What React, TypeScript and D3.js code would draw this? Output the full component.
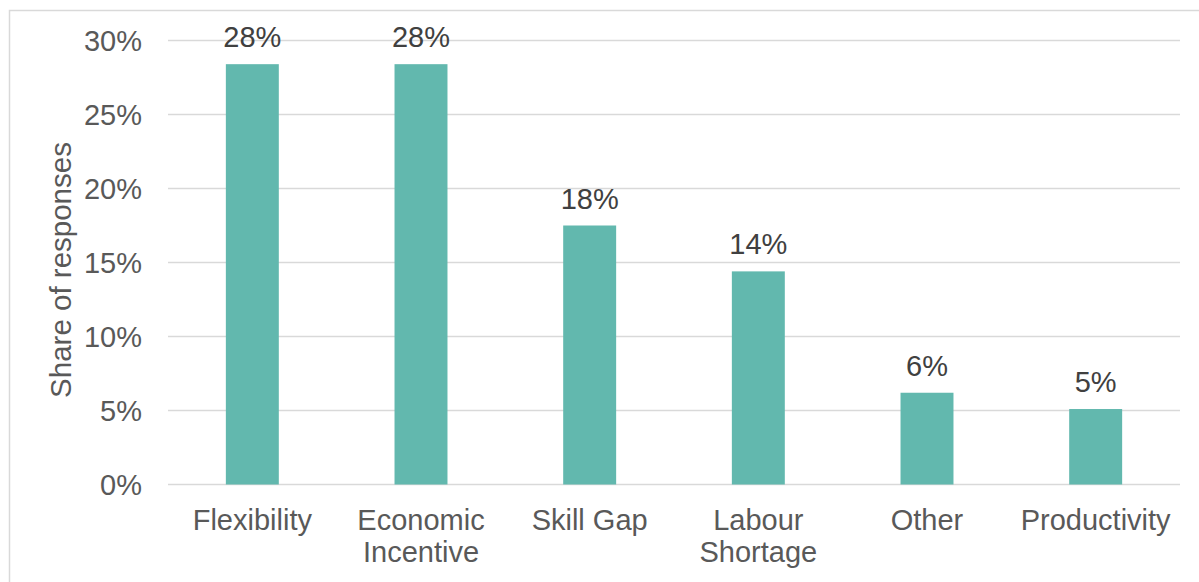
import React from "react";
import * as d3 from "d3";

const categories: string[][] = [
  ["Flexibility"],
  ["Economic", "Incentive"],
  ["Skill Gap"],
  ["Labour", "Shortage"],
  ["Other"],
  ["Productivity"],
];
const values: number[] = [0.284, 0.284, 0.175, 0.144, 0.062, 0.051];
const yTicks: number[] = [0, 0.05, 0.1, 0.15, 0.2, 0.25, 0.3];
const yTitle = "Share of responses";

const W = 1199;
const H = 582;
const M = { left: 168, right: 1180, top: 40.5, bottom: 484.5 };
const FONT = "'Liberation Sans', Arial, sans-serif";

export default function App() {
  const keys = categories.map((c) => c.join(" "));
  const x = d3.scaleBand<string>().domain(keys).range([M.left, M.right]).paddingInner(0.686).paddingOuter(0.343);
  const y = d3.scaleLinear().domain([0, 0.3]).range([M.bottom, M.top]);
  const fmt = d3.format(".0%");

  return (
    <svg width={W} height={H} style={{ position: "absolute", left: 0, top: 0 }} fontFamily={FONT}>
      <rect x={0} y={0} width={W} height={H} fill="#fff" />
      <rect x={9.5} y={10.5} width={W + 20} height={H + 20} fill="none" stroke="#d9d9d9" strokeWidth={1.5} />
      {yTicks.map((t) => (
        <g key={t}>
          <line x1={M.left} x2={M.right} y1={y(t)} y2={y(t)} stroke="#d9d9d9" strokeWidth={1.5} />
          <text x={142} y={y(t)} dy="0.36em" textAnchor="end" fontSize={29} fill="#595959">
            {fmt(t)}
          </text>
        </g>
      ))}
      {values.map((v, i) => {
        const k = keys[i];
        const bx = x(k)!;
        return (
          <g key={k}>
            <rect x={bx} y={y(v)} width={x.bandwidth()} height={y(0) - y(v)} fill="#62b8ae" />
            <text x={bx + x.bandwidth() / 2} y={y(v) - 17} textAnchor="middle" fontSize={29} fill="#404040">
              {fmt(v)}
            </text>
          </g>
        );
      })}
      {categories.map((lines, i) => {
        const cx = x(keys[i])! + x.bandwidth() / 2;
        return (
          <text key={keys[i]} x={cx} y={530} textAnchor="middle" fontSize={29} fill="#595959">
            {lines.map((l, j) => (
              <tspan key={j} x={cx} dy={j === 0 ? 0 : 32}>
                {l}
              </tspan>
            ))}
          </text>
        );
      })}
      <text
        transform={`translate(70.5, 270) rotate(-90)`}
        textAnchor="middle"
        fontSize={29.5}
        fill="#595959"
      >
        {yTitle}
      </text>
    </svg>
  );
}
